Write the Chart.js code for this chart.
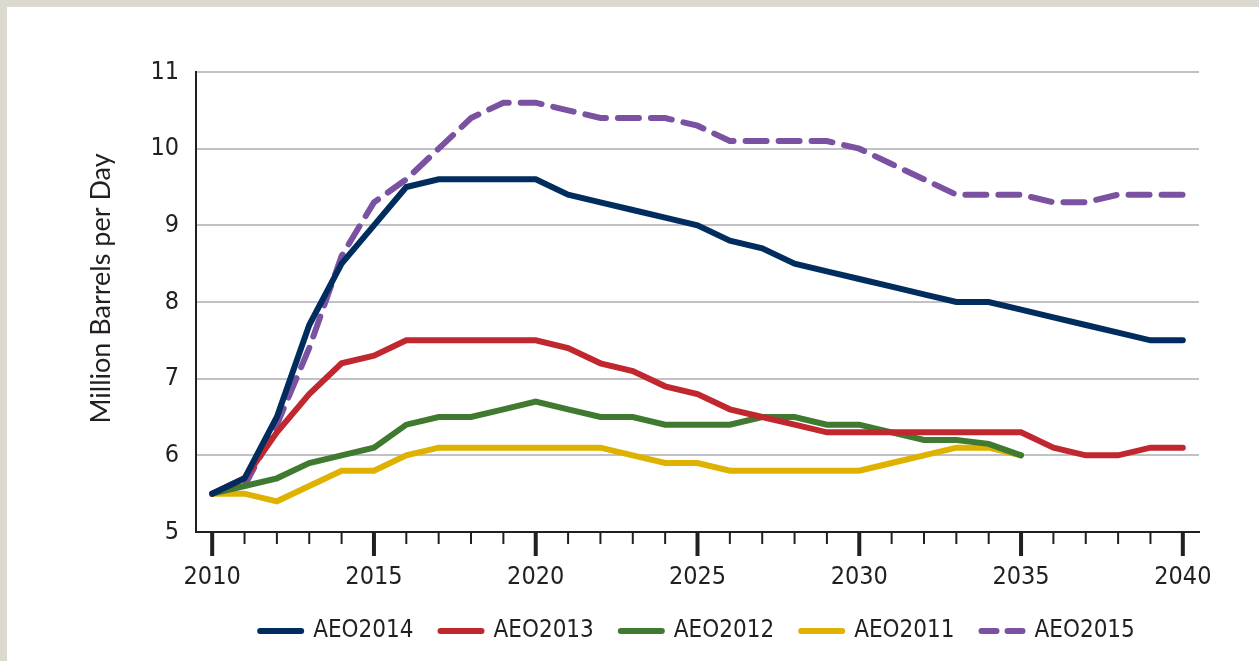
<!DOCTYPE html>
<html>
<head>
<meta charset="utf-8">
<script src="https://cdn.jsdelivr.net/npm/chart.js@4.4.1/dist/chart.umd.min.js"></script>
<style>
  html, body { margin: 0; padding: 0; background: #dcd9d1; overflow: hidden; }
  #panel { position: absolute; left: 7px; top: 7px; width: 1252px; height: 654px; background: #fff; }
</style>
</head>
<body>
<div id="panel"><canvas id="graph-area" width="1252" height="654"></canvas></div>
<script>
// years on the x axis
var years = [2010, 2011, 2012, 2013, 2014, 2015, 2016, 2017, 2018, 2019, 2020,
  2021, 2022, 2023, 2024, 2025, 2026, 2027, 2028, 2029, 2030,
  2031, 2032, 2033, 2034, 2035, 2036, 2037, 2038, 2039, 2040];
var xTickLabels = ["2010", "2015", "2020", "2025", "2030", "2035", "2040"];
var yTicks = [5, 6, 7, 8, 9, 10, 11];

// million barrels per day
var aeo2014 = [5.5, 5.7, 6.5, 7.7, 8.5, 9.0, 9.5, 9.6, 9.6, 9.6, 9.6,
  9.4, 9.3, 9.2, 9.1, 9.0, 8.8, 8.7, 8.5, 8.4, 8.3,
  8.2, 8.1, 8.0, 8.0, 7.9, 7.8, 7.7, 7.6, 7.5, 7.5];
var aeo2013 = [5.5, 5.7, 6.3, 6.8, 7.2, 7.3, 7.5, 7.5, 7.5, 7.5, 7.5,
  7.4, 7.2, 7.1, 6.9, 6.8, 6.6, 6.5, 6.4, 6.3, 6.3,
  6.3, 6.3, 6.3, 6.3, 6.3, 6.1, 6.0, 6.0, 6.1, 6.1];
var aeo2012 = [5.5, 5.6, 5.7, 5.9, 6.0, 6.1, 6.4, 6.5, 6.5, 6.6, 6.7,
  6.6, 6.5, 6.5, 6.4, 6.4, 6.4, 6.5, 6.5, 6.4, 6.4,
  6.3, 6.2, 6.2, 6.15, 6.0, null, null, null, null, null];
var aeo2011 = [5.5, 5.5, 5.4, 5.6, 5.8, 5.8, 6.0, 6.1, 6.1, 6.1, 6.1,
  6.1, 6.1, 6.0, 5.9, 5.9, 5.8, 5.8, 5.8, 5.8, 5.8,
  5.9, 6.0, 6.1, 6.1, 6.0, null, null, null, null, null];
var aeo2015 = [5.5, 5.6, 6.4, 7.4, 8.6, 9.3, 9.6, 10.0, 10.4, 10.6, 10.6,
  10.5, 10.4, 10.4, 10.4, 10.3, 10.1, 10.1, 10.1, 10.1, 10.0,
  9.8, 9.6, 9.4, 9.4, 9.4, 9.3, 9.3, 9.4, 9.4, 9.4];

window.addEventListener("DOMContentLoaded", function () {
  var narrow = "'Liberation Sans Narrow', 'DejaVu Sans Condensed', sans-serif";
  var ink = "#231f20";

  function series(label, data, color, dash) {
    return {
      label: label,
      data: data,
      borderColor: color,
      backgroundColor: color,
      borderWidth: 6,
      borderDash: dash || [],
      borderCapStyle: "round",
      borderJoinStyle: "miter",
      pointRadius: 0,
      tension: 0,
      fill: false,
      spanGaps: false
    };
  }

  // tick marks under the x axis, long ones every 5 years
  var axisTicks = {
    id: "axisTicks",
    afterDraw: function (chart) {
      var x = chart.scales.x;
      var ctx = chart.ctx;
      var bottom = chart.chartArea.bottom;
      ctx.save();
      ctx.strokeStyle = ink;
      years.forEach(function (yr, i) {
        var major = xTickLabels.indexOf(String(yr)) >= 0;
        var px = x.getPixelForValue(i);
        ctx.lineWidth = major ? 4 : 2;
        ctx.beginPath();
        ctx.moveTo(px, bottom);
        ctx.lineTo(px, bottom + (major ? 24 : 12));
        ctx.stroke();
      });
      ctx.restore();
    }
  };

  var canvas = document.getElementById("graph-area");
  var chart = new Chart(canvas, {
    type: "line",
    data: {
      labels: years,
      datasets: [
        series("AEO2014", aeo2014, "#002d5e"),
        series("AEO2013", aeo2013, "#c1272f"),
        series("AEO2012", aeo2012, "#3f7a30"),
        series("AEO2011", aeo2011, "#dfb200"),
        series("AEO2015", aeo2015, "#7b52a1", [21, 12])
      ]
    },
    options: {
      responsive: false,
      animation: false,
      devicePixelRatio: 1,
      layout: { padding: { left: 0, right: 60, top: 65, bottom: 8 } },
      scales: {
        x: {
          type: "category",
          offset: true,
          afterFit: function (s) { s.height = 60; },
          grid: { display: true, drawOnChartArea: false, drawTicks: true, tickLength: 24, tickColor: "rgba(0,0,0,0)" },
          border: { display: true, color: ink, width: 2 },
          ticks: {
            autoSkip: false,
            maxRotation: 0,
            padding: 6,
            color: ink,
            font: { family: narrow, size: 25 },
            callback: function (val, i) {
              var s = String(years[i]);
              return xTickLabels.indexOf(s) >= 0 ? s : "";
            }
          }
        },
        y: {
          min: yTicks[0],
          max: yTicks[yTicks.length - 1],
          afterFit: function (s) { s.width = 189; },
          afterBuildTicks: function (s) {
            s.ticks = yTicks.map(function (v) { return { value: v }; });
          },
          grid: { color: "#c2c2c6", lineWidth: 2, drawTicks: false },
          border: { display: true, color: ink, width: 2 },
          ticks: {
            padding: 17,
            color: ink,
            font: { family: narrow, size: 25 }
          },
          title: {
            display: true,
            // leading spaces nudge the title up a little
            text: "\u2002\u2002Million Barrels per Day",
            color: ink,
            font: { family: "Lato", size: 27 },
            padding: { top: 78, bottom: 0 }
          }
        }
      },
      plugins: {
        tooltip: { enabled: false },
        legend: {
          position: "bottom",
          fullSize: false,
          labels: {
            usePointStyle: true,
            pointStyle: "line",
            pointStyleWidth: 41,
            padding: 27,
            color: ink,
            font: { family: narrow, size: 24 },
            generateLabels: function (c) {
              var items = Chart.defaults.plugins.legend.labels.generateLabels(c);
              items.forEach(function (it) {
                it.lineCap = "round";
                if (it.text === "AEO2015") it.lineDash = [15, 11];
              });
              return items;
            }
          }
        }
      }
    },
    plugins: [axisTicks]
  });
});
</script>
</body>
</html>
